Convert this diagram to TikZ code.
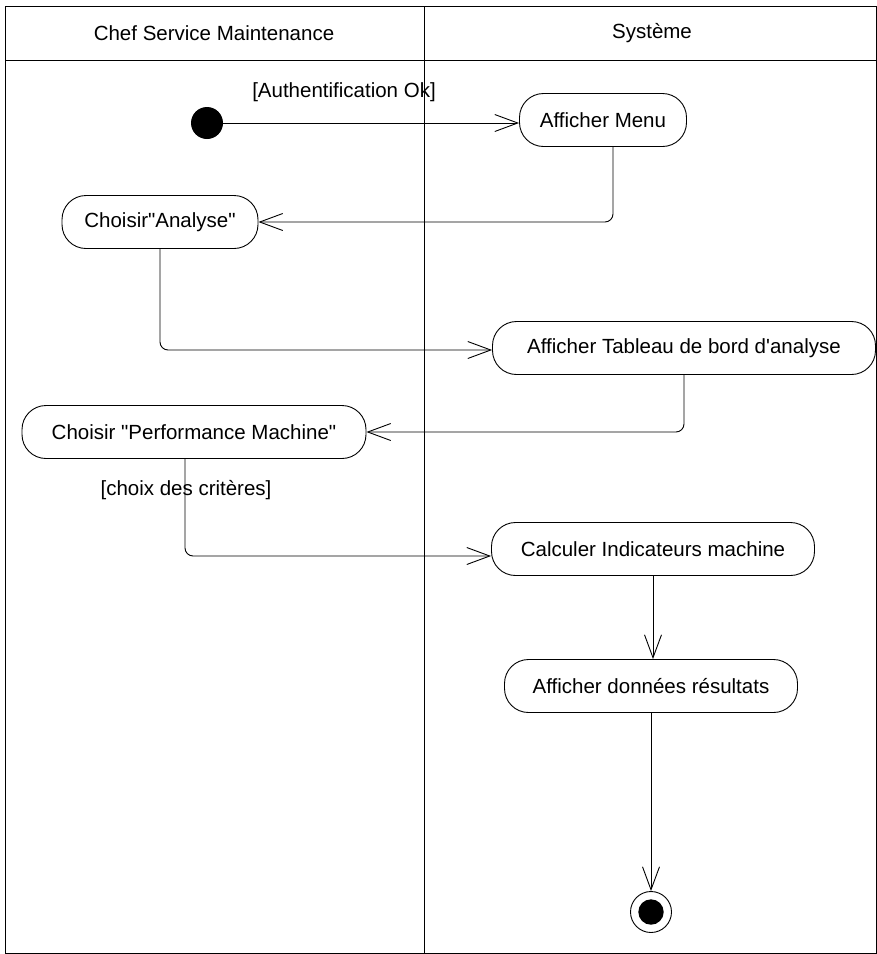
\documentclass[tikz,border=0pt]{standalone}
\usepackage{fontspec}
\setmainfont{Liberation Sans}
\usetikzlibrary{positioning,arrows.meta}

\begin{document}
\begin{tikzpicture}[x=1pt,y=-1pt,
  every node/.style={font=\fontsize{20.5}{24}\selectfont},
  act/.style={draw,line width=0.9pt,rounded corners=24pt,minimum height=53pt,inner sep=0pt},
  flow/.style={-{Straight Barb[length=23pt,width=17pt]},line width=0.9pt,rounded corners=8pt}]
  \useasboundingbox (0,0) rectangle (877,954);
  % swimlanes
  \draw[line width=1pt] (5,6) rectangle (876,953);
  \draw[line width=1pt] (5,60) -- (876,60);
  \draw[line width=1pt] (424,6) -- (424,953);
  \node (lanechef) at (214,33){Chef Service Maintenance};
  \node (lanesys) at (652,33){Système};
  % activities
  \node[circle,fill,minimum size=32pt,inner sep=0pt] (init) at (207,123){};
  \node[act,minimum width=167pt] (menu) at (603,120){Afficher Menu};
  \node[act,minimum width=196pt] (analyse) at (160,222){Choisir\textquotedbl Analyse\textquotedbl};
  \node[act,minimum width=383pt] (tableau) at (684,348){Afficher Tableau de bord d\textquotesingle analyse};
  \node[act,minimum width=344pt] (perf) at (194,432){Choisir \textquotedbl Performance Machine\textquotedbl};
  \node[act,minimum width=323pt] (calc) at (653,549){Calculer Indicateurs machine};
  \node[act,minimum width=293pt] (donnees) at (651,686){Afficher données résultats};
  \node[circle,draw,line width=0.9pt,minimum size=41pt,inner sep=0pt] (final) at (651,912){};
  \fill (final) circle (12.7pt);
  % guards
  \node (gardeauth) at (344,92){[Authentification Ok]};
  \node (gardecrit) at (186,490){[choix des critères]};
  % transitions
  \draw[flow] (init) -- (init -| menu.west);
  \draw[flow] ([xshift=10pt]menu.south) |- (analyse.east);
  \draw[flow] (analyse) |- ([yshift=-2pt]tableau.west);
  \draw[flow] (tableau) |- (perf.east);
  \draw[flow] ([xshift=-9pt]perf.south) |- ([yshift=-7pt]calc.west);
  \draw[flow] (calc) -- (calc |- donnees.north);
  \draw[flow] (donnees) -- (final);
\end{tikzpicture}
\end{document}
